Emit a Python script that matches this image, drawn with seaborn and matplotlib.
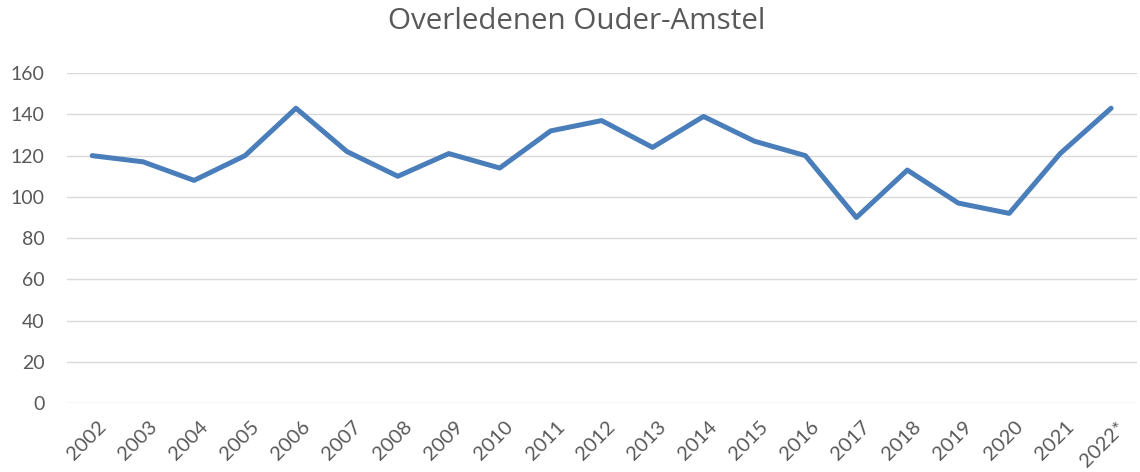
import pandas as pd
import seaborn as sns
from matplotlib import pyplot as plt
from matplotlib import transforms

years = ["2002", "2003", "2004", "2005", "2006", "2007", "2008", "2009", "2010", "2011",
         "2012", "2013", "2014", "2015", "2016", "2017", "2018", "2019", "2020", "2021", "2022*"]
deaths = [120, 117, 108, 120, 143, 122, 110, 121, 114, 132,
          137, 124, 139, 127, 120, 90, 113, 97, 92, 121, 143]
y_ticks = [0, 20, 40, 60, 80, 100, 120, 140, 160]


def main():
    df = pd.DataFrame({"jaar": years, "overledenen": deaths})
    df["pos"] = range(len(df))

    sns.set_style("white")
    plt.rcParams["font.family"] = ["Lato", "DejaVu Sans"]

    fig = plt.figure(figsize=(11.4, 4.72), dpi=100)
    ax = fig.add_axes([0.0585, 0.146, 0.9385, 0.699])

    sns.lineplot(data=df, x="pos", y="overledenen", color="#4a7ebb",
                 linewidth=3.6, sort=False, ax=ax, solid_capstyle="round")

    ax.set_ylim(0, 160)
    ax.set_xlim(-0.5, len(years) - 0.5)
    ax.set_yticks(y_ticks)
    ax.set_xticks(df["pos"])
    ax.set_xticklabels(years, rotation=45, ha="right", rotation_mode="anchor")
    ax.tick_params(axis="both", colors="#595959", labelsize=14, length=0)
    ax.tick_params(axis="x", labelsize=14.5, pad=11)
    ax.tick_params(axis="y", pad=16)
    # shift the slanted year labels a bit to the right, like the original
    shift = transforms.ScaledTranslation(5 / 100, 0, fig.dpi_scale_trans)
    for lbl in ax.get_xticklabels():
        lbl.set_transform(lbl.get_transform() + shift)
    ax.yaxis.grid(True, color="#d9d9d9", linewidth=1)
    ax.set_axisbelow(True)
    sns.despine(ax=ax, left=True, bottom=True)
    ax.set_xlabel("")
    ax.set_ylabel("")

    fig.suptitle("Overledenen Ouder-Amstel", x=0.506, y=0.985, fontsize=21.3,
                 color="#595959", family=["Open Sans", "DejaVu Sans"])

    fig.savefig("out.png", dpi=100)


if __name__ == '__main__':
    main()
